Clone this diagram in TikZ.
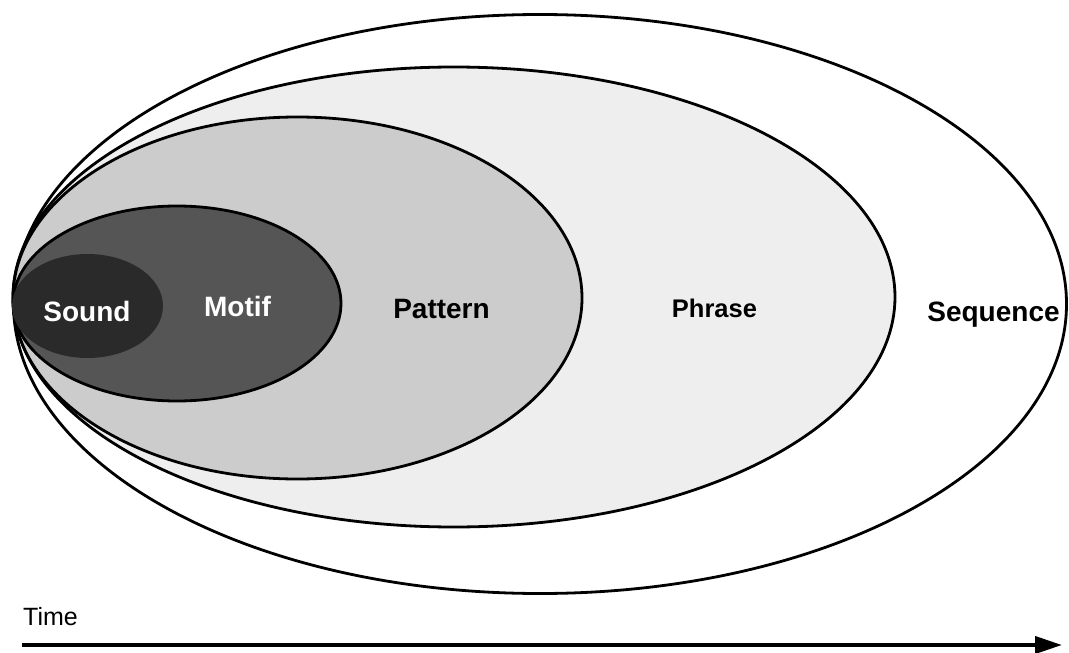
\documentclass[tikz,border=0pt]{standalone}
\usepackage{fontspec}
\setmainfont{Liberation Sans}
\usetikzlibrary{shapes.geometric,arrows.meta}

\definecolor{soundfill}{HTML}{2A2A2A}
\definecolor{motiffill}{HTML}{555555}
\definecolor{patternfill}{HTML}{CCCCCC}
\definecolor{phrasefill}{HTML}{EEEEEE}

\begin{document}
\begin{tikzpicture}[x=1pt,y=-1pt]
      \tikzset{
        level/.style={ellipse,draw,line width=2.8pt,inner sep=0pt,outer sep=0pt},
        lbl/.style={anchor=base,inner sep=0pt,font=\bfseries\fontsize{28}{30}\selectfont}
      }
      \useasboundingbox (0,0) rectangle (1069,653);

      \node[level,fill=white,minimum width=1053pt,minimum height=579pt] (sequence) at (540,304) {};
      \node[level,fill=phrasefill,minimum width=882pt,minimum height=460pt] (phrase) at (454,297) {};
      \node[level,fill=patternfill,minimum width=569pt,minimum height=362pt] (pattern) at (297.5,298) {};
      \node[level,fill=motiffill,minimum width=328pt,minimum height=195pt] (motif) at (177,303.5) {};
      \node[level,draw=none,fill=soundfill,minimum width=151pt,minimum height=104pt] (sound) at (87.5,306) {};

      \node[lbl,text=white] (soundtxt) at (87,321) {Sound};
      \node[lbl,text=white] (motiftxt) at (237.5,316) {Motif};
      \node[lbl] (patterntxt) at (441.5,318) {Pattern};
      \node[lbl,font=\bfseries\fontsize{25.5}{28}\selectfont] (phrasetxt) at (714.5,317) {Phrase};
      \node[lbl] (sequencetxt) at (993.5,321.5) {Sequence};

      % time axis
      \node[anchor=base west,inner sep=0pt,font=\fontsize{25}{28}\selectfont] (time) at (23,625) {Time};
      \coordinate (t0) at (22,645);
      \coordinate (t1) at (1062,645);
      \draw[line width=4pt,-{Triangle[length=27pt,width=17pt]}] (t0) -- (t1);
    \end{tikzpicture}
\end{document}
